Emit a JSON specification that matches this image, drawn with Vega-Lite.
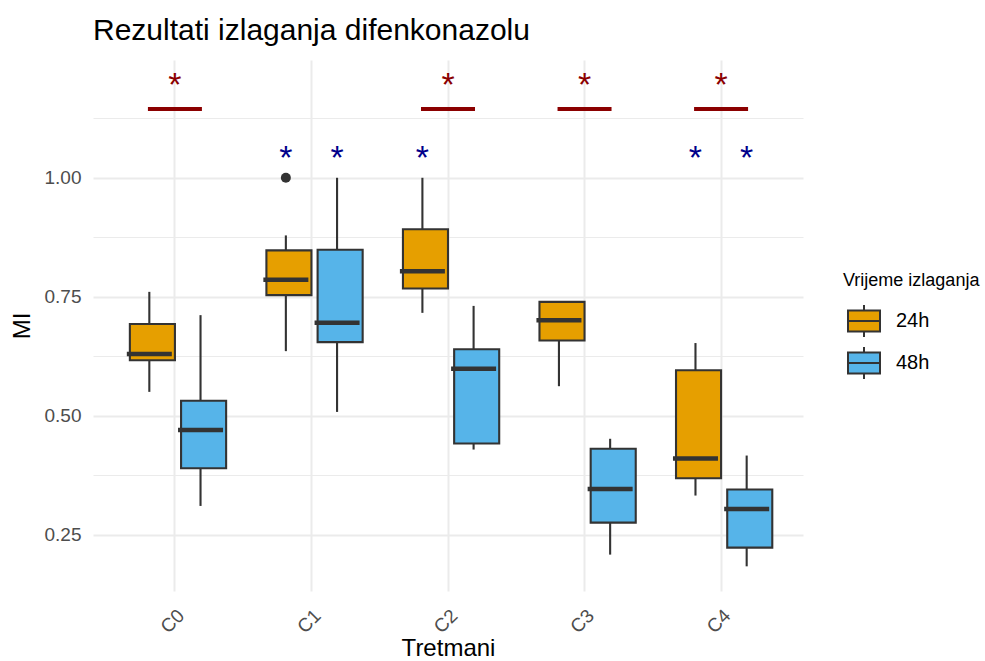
{
  "$schema": "https://vega.github.io/schema/vega-lite/v6.json",
  "width": 710,
  "height": 531,
  "autosize": {"type": "none"},
  "padding": {"left": 93, "top": 60, "right": 182, "bottom": 70},
  "background": "white",
  "title": {"text": "Rezultati izlaganja difenkonazolu", "anchor": "start", "frame": "group", "fontSize": 30, "font": "Liberation Sans", "fontWeight": "normal", "color": "black", "offset": 14},
  "config": {
    "view": {"stroke": null},
    "font": "Liberation Sans",
    "axis": {"labelFont": "Liberation Sans", "titleFont": "Liberation Sans", "domain": false, "ticks": false, "labelColor": "#4D4D4D", "labelFontSize": 19, "titleFontSize": 24, "titleFontWeight": "normal", "titleColor": "black", "gridColor": "#EBEBEB"},
    "legend": {"labelFont": "Liberation Sans", "titleFont": "Liberation Sans"}
  },
  "datasets": {
    "boxes": [
      {"trt": "C0", "time": "24h", "lower": 0.5505, "q1": 0.617, "median": 0.630, "q3": 0.693, "upper": 0.7605},
      {"trt": "C0", "time": "48h", "lower": 0.311, "q1": 0.390, "median": 0.4706, "q3": 0.532, "upper": 0.7116},
      {"trt": "C1", "time": "24h", "lower": 0.636, "q1": 0.7536, "median": 0.786, "q3": 0.8475, "upper": 0.879},
      {"trt": "C1", "time": "48h", "lower": 0.5084, "q1": 0.655, "median": 0.6954, "q3": 0.849, "upper": 1.0},
      {"trt": "C2", "time": "24h", "lower": 0.7164, "q1": 0.7676, "median": 0.804, "q3": 0.892, "upper": 1.0},
      {"trt": "C2", "time": "48h", "lower": 0.4294, "q1": 0.442, "median": 0.599, "q3": 0.640, "upper": 0.731},
      {"trt": "C3", "time": "24h", "lower": 0.5624, "q1": 0.6584, "median": 0.701, "q3": 0.7395, "upper": 0.7395},
      {"trt": "C3", "time": "48h", "lower": 0.2088, "q1": 0.276, "median": 0.3466, "q3": 0.431, "upper": 0.452},
      {"trt": "C4", "time": "24h", "lower": 0.3328, "q1": 0.369, "median": 0.4105, "q3": 0.596, "upper": 0.653},
      {"trt": "C4", "time": "48h", "lower": 0.1842, "q1": 0.2235, "median": 0.3046, "q3": 0.3454, "upper": 0.4168}
    ],
    "outliers": [
      {"trt": "C1", "time": "24h", "value": 1.0}
    ],
    "redmarks": [
      {"trt": "C0", "seg": 1.1443, "star": 1.171},
      {"trt": "C2", "seg": 1.1443, "star": 1.171},
      {"trt": "C3", "seg": 1.1443, "star": 1.171},
      {"trt": "C4", "seg": 1.1443, "star": 1.171}
    ],
    "bluestars": [
      {"trt": "C1", "time": "24h", "star": 1.0174},
      {"trt": "C1", "time": "48h", "star": 1.0174},
      {"trt": "C2", "time": "24h", "star": 1.0174},
      {"trt": "C4", "time": "24h", "star": 1.0174},
      {"trt": "C4", "time": "48h", "star": 1.0174}
    ]
  },
  "encoding": {
    "x": {
      "field": "trt", "type": "nominal", "sort": ["C0", "C1", "C2", "C3", "C4"], "title": "Tretmani",
      "scale": {"domain": ["C0", "C1", "C2", "C3", "C4"], "paddingInner": 0.25, "paddingOuter": 0.225},
      "axis": {"labelAngle": -45, "labelAlign": "right", "labelBaseline": "top", "labelPadding": 15, "grid": true, "gridWidth": 2, "bandPosition": 0.5, "titlePadding": 0}
    }
  },
  "layer": [
    {
      "data": {"name": "boxes"},
      "mark": {"type": "rule", "color": "#333333", "strokeWidth": 2.1},
      "encoding": {
        "xOffset": {"field": "time", "type": "nominal", "scale": {"domain": ["24h", "48h"], "paddingInner": 0, "paddingOuter": 0}},
        "y": {"field": "lower", "type": "quantitative", "title": "MI",
          "scale": {"domain": [0.1324, 1.2473], "nice": false, "zero": false},
          "axis": {
            "values": [0.25, 0.375, 0.5, 0.625, 0.75, 0.875, 1, 1.125],
            "labelExpr": "round(datum.value*1000) % 250 == 0 ? format(datum.value, '.2f') : ''",
            "gridWidth": {"condition": {"test": "round(datum.value*1000) % 250 == 0", "value": 2}, "value": 1},
            "labelPadding": 12, "titlePadding": 10
          }
        },
        "y2": {"field": "upper"}
      }
    },
    {
      "data": {"name": "boxes"},
      "mark": {"type": "bar", "stroke": "#333333", "strokeWidth": 2.1, "width": {"band": 0.88}},
      "encoding": {
        "xOffset": {"field": "time", "type": "nominal"},
        "y": {"field": "q1", "type": "quantitative", "title": "MI"},
        "y2": {"field": "q3"},
        "fill": {
          "field": "time", "type": "nominal",
          "scale": {"domain": ["24h", "48h"], "range": ["#E69F00", "#56B4E9"]},
          "legend": {
            "title": "Vrijeme izlaganja", "orient": "none", "legendX": 750, "legendY": 212,
            "padding": 0, "titleFontSize": 18, "titleFontWeight": "normal", "titleColor": "black", "titleBaseline": "top", "titlePadding": 14,
            "labelFontSize": 20, "labelColor": "black", "labelOffset": 15,
            "symbolType": "M-1,-0.66H1V0.66H-1Z M-1,0H1 M0,-0.66V-1 M0,0.66V1",
            "symbolSize": 1024, "symbolStrokeColor": "#333333", "symbolStrokeWidth": 2, "symbolOffset": 4,
            "rowPadding": 2, "symbolOpacity": 1
          }
        }
      }
    },
    {
      "data": {"name": "boxes"},
      "mark": {"type": "tick", "color": "#333333", "size": 45, "thickness": 4.5, "opacity": 1},
      "encoding": {
        "xOffset": {"field": "time", "type": "nominal"},
        "y": {"field": "median", "type": "quantitative", "title": "MI"}
      }
    },
    {
      "data": {"name": "outliers"},
      "mark": {"type": "point", "filled": true, "color": "#333333", "size": 100, "opacity": 1},
      "encoding": {
        "xOffset": {"field": "time", "type": "nominal"},
        "y": {"field": "value", "type": "quantitative", "title": "MI"}
      }
    },
    {
      "data": {"name": "redmarks"},
      "mark": {"type": "tick", "color": "#8B0000", "size": 54, "thickness": 4, "opacity": 1},
      "encoding": {
        "y": {"field": "seg", "type": "quantitative", "title": "MI"}
      }
    },
    {
      "data": {"name": "redmarks"},
      "mark": {"type": "text", "text": "*", "color": "#8B0000", "fontSize": 34, "font": "Liberation Sans", "baseline": "alphabetic", "align": "center"},
      "encoding": {
        "y": {"field": "star", "type": "quantitative", "title": "MI"}
      }
    },
    {
      "data": {"name": "bluestars"},
      "mark": {"type": "text", "text": "*", "color": "#00008B", "fontSize": 34, "font": "Liberation Sans", "baseline": "alphabetic", "align": "center"},
      "encoding": {
        "xOffset": {"field": "time", "type": "nominal"},
        "y": {"field": "star", "type": "quantitative", "title": "MI"}
      }
    }
  ]
}
